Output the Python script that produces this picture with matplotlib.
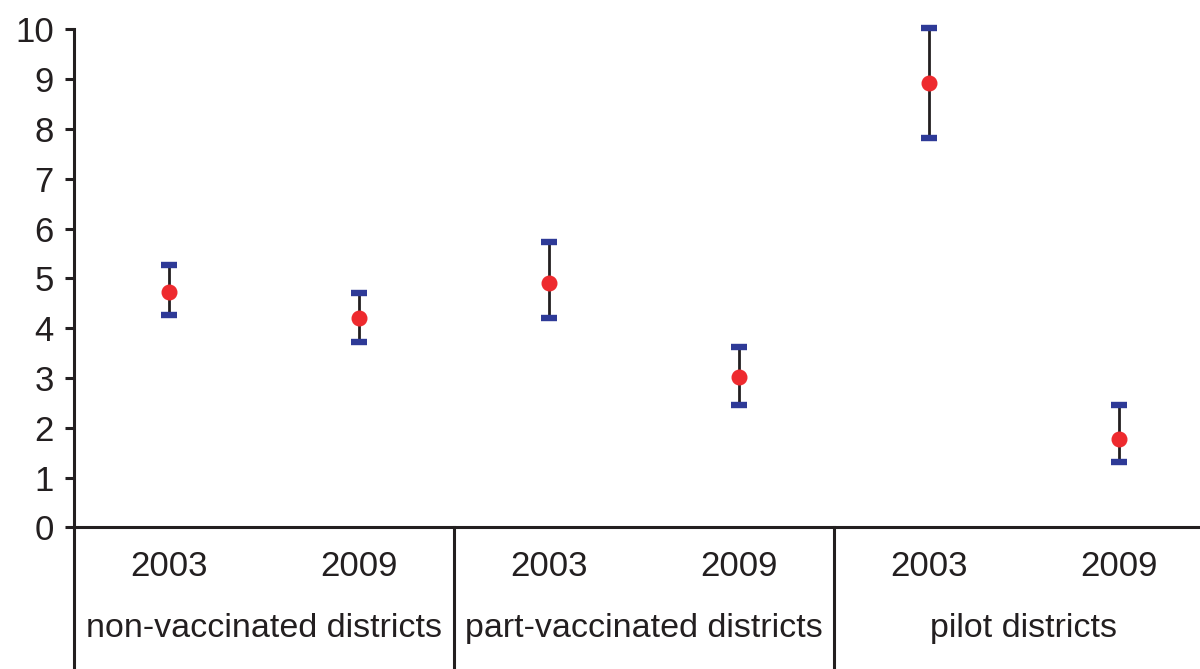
import matplotlib
matplotlib.use("Agg")
import matplotlib.pyplot as plt
import numpy as np

plt.rcParams['font.family'] = ['Liberation Sans', 'DejaVu Sans']

years = ["2003", "2009", "2003", "2009", "2003", "2009"]
groups = ["non-vaccinated districts", "part-vaccinated districts", "pilot districts"]
means = [4.73, 4.20, 4.91, 3.02, 8.92, 1.77]
lower = [4.26, 3.72, 4.20, 2.45, 7.82, 1.31]
upper = [5.27, 4.70, 5.74, 3.63, 10.04, 2.45]

TXT = '#231f20'
fig = plt.figure(figsize=(12, 6.69), dpi=100)
ax = fig.add_axes([74/1200, 141.7/669, 1140/1200, 497.8/669])

x = np.arange(1, len(means) + 1)
m = np.array(means); lo = np.array(lower); hi = np.array(upper)
ax.vlines(x, lo, hi, color=TXT, lw=2.0, zorder=2, clip_on=False)
ax.plot(x, lo, ls='none', marker='_', ms=12, mew=4.6, color='#2e3a97', zorder=3, clip_on=False)
ax.plot(x, hi, ls='none', marker='_', ms=12, mew=4.6, color='#2e3a97', zorder=3, clip_on=False)
ax.plot(x, m, ls='none', marker='o', ms=10.5, color='#ee2a2e', mec='#ee2a2e', zorder=4, clip_on=False)

ax.set_xlim(0.5, 6.5)
ax.set_ylim(0, 10)
ax.set_yticks(range(0, 11))
ax.set_xticks([])
for s in ['top', 'right']:
    ax.spines[s].set_visible(False)
for s in ['left', 'bottom']:
    ax.spines[s].set_linewidth(2.2)
    ax.spines[s].set_color(TXT)
ax.tick_params(axis='y', length=6.5, width=2.2, color=TXT, labelsize=25, labelcolor=TXT, pad=8)

tr = ax.get_xaxis_transform()
# extension of left axis and group separators below the x axis
for xs in [0.5, 2.5, 4.5]:
    ax.plot([xs, xs], [0, -0.4], transform=tr, color=TXT, lw=2.2, clip_on=False)

for xi, yr in zip(x, years):
    ax.text(xi, -0.0978, yr, transform=tr, ha='center', va='baseline', fontsize=25, color=TXT)
for gi, g in enumerate(groups):
    ax.text(1.5 + 2 * gi, -0.2204, g, transform=tr, ha='center', va='baseline', fontsize=24.5, color=TXT)

fig.savefig("out.png", dpi=100)
